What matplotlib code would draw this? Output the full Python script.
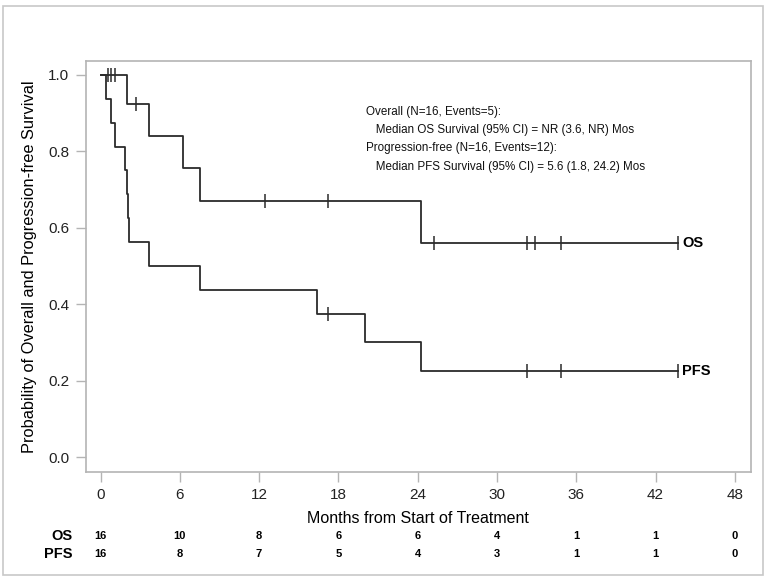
import matplotlib
matplotlib.use("Agg")
import matplotlib.pyplot as plt
from matplotlib.patches import Rectangle
import matplotlib.transforms as mtransforms
import numpy as np

plt.rcParams["font.family"] = ["Liberation Sans", "DejaVu Sans"]

# Kaplan-Meier step data
os_times = [0.0, 2.04, 3.65, 6.22, 7.51, 24.23, 43.72]
os_surv = [1.0, 0.923, 0.839, 0.755, 0.671, 0.559, 0.559]
os_cens_t = [0.55, 0.83, 1.1, 2.67, 12.48, 17.24, 25.2, 32.3, 32.85, 34.82, 43.72]
os_cens_s = [1.0, 1.0, 1.0, 0.923, 0.671, 0.671, 0.559, 0.559, 0.559, 0.559, 0.559]

pfs_times = [0.0, 0.45, 0.76, 1.1, 1.84, 2.0, 2.07, 2.14, 3.65, 7.5, 16.36, 20.0, 24.28, 43.72]
pfs_surv = [1.0, 0.9375, 0.875, 0.8125, 0.75, 0.6875, 0.625, 0.5625, 0.5, 0.4375, 0.375, 0.3, 0.225, 0.225]
pfs_cens_t = [17.24, 32.3, 34.82, 43.72]
pfs_cens_s = [0.375, 0.225, 0.225, 0.225]

risk_times = [0, 6, 12, 18, 24, 30, 36, 42, 48]
os_risk = [16, 10, 8, 6, 6, 4, 1, 1, 0]
pfs_risk = [16, 8, 7, 5, 4, 3, 1, 1, 0]

info_lines = [
    "Overall (N=16, Events=5):",
    "   Median OS Survival (95% CI) = NR (3.6, NR) Mos",
    "Progression-free (N=16, Events=12):",
    "   Median PFS Survival (95% CI) = 5.6 (1.8, 24.2) Mos",
]

line_col = "#2b2b2b"
frame_col = "#b4b4b4"

fig = plt.figure(figsize=(7.69, 5.80), dpi=100)
fig.patches.append(Rectangle((3 / 769, 5 / 580), 760 / 769, 569 / 580,
                             transform=fig.transFigure, fill=False,
                             edgecolor="#c8c8c8", linewidth=1.2))
ax = fig.add_axes([0.1118, 0.1867, 0.8644, 0.7087])

ax.step(os_times, os_surv, where="post", color=line_col, linewidth=1.3)
ax.step(pfs_times, pfs_surv, where="post", color=line_col, linewidth=1.3)
ax.plot(os_cens_t, os_cens_s, linestyle="none", marker="|", markersize=10,
        markeredgewidth=1.1, color=line_col)
ax.plot(pfs_cens_t, pfs_cens_s, linestyle="none", marker="|", markersize=10,
        markeredgewidth=1.1, color=line_col)

ax.annotate("OS", (os_times[-1], os_surv[-1]), xytext=(3, 0),
            textcoords="offset points", va="center", ha="left",
            fontsize=10.5, fontweight="bold")
ax.annotate("PFS", (pfs_times[-1], pfs_surv[-1]), xytext=(3, 0),
            textcoords="offset points", va="center", ha="left",
            fontsize=10.5, fontweight="bold")

for i, txt in enumerate(info_lines):
    ax.text(0.421, 0.876 - i * 0.0445, txt, transform=ax.transAxes,
            fontsize=8.4, va="center", ha="left", color="#111111")

ax.set_xlim(-1.1, 49.2)
ax.set_ylim(-0.038, 1.037)
ax.set_xticks(risk_times)
ax.set_yticks(np.arange(0, 1.01, 0.2))
ax.set_yticklabels([f"{v:.1f}" for v in np.arange(0, 1.01, 0.2)])
ax.tick_params(axis="both", direction="out", length=7, width=1,
               color=frame_col, labelsize=11, labelcolor="#222222", pad=5)
for sp in ax.spines.values():
    sp.set_color(frame_col)
    sp.set_linewidth(1.2)

ax.set_xlabel("Months from Start of Treatment", fontsize=11.5, labelpad=6)
ax.set_ylabel("Probability of Overall and Progression-free Survival",
              fontsize=11.8, labelpad=8)

# numbers at risk
trans = mtransforms.blended_transform_factory(ax.transData, fig.transFigure)
for t, a, b in zip(risk_times, os_risk, pfs_risk):
    ax.text(t, 1 - 535.7 / 580, str(a), transform=trans, ha="center",
            va="center", fontsize=8, fontweight="bold")
    ax.text(t, 1 - 554 / 580, str(b), transform=trans, ha="center",
            va="center", fontsize=8, fontweight="bold")
fig.text(72.7 / 769, 1 - 535.7 / 580, "OS", ha="right", va="center",
         fontsize=10.5, fontweight="bold")
fig.text(72.7 / 769, 1 - 554 / 580, "PFS", ha="right", va="center",
         fontsize=10.5, fontweight="bold")

fig.savefig("out.png", dpi=100)
